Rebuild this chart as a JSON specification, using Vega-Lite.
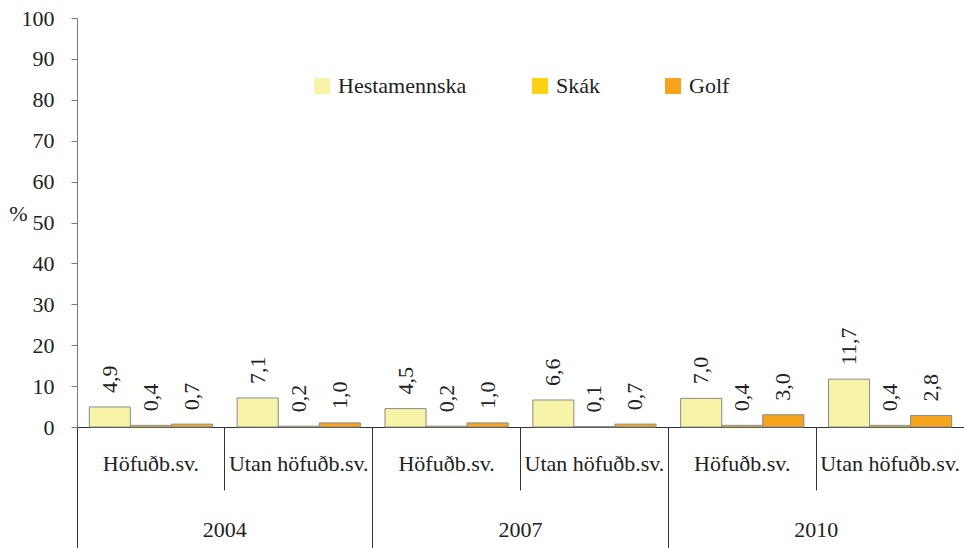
{
  "$schema": "https://vega.github.io/schema/vega-lite/v6.json",
  "autosize": {"type": "none"},
  "padding": {"left": 77, "top": 18, "right": 0, "bottom": 121},
  "width": 887,
  "height": 409,
  "background": "white",
  "config": {
    "view": {"stroke": null},
    "locale": {"number": {"decimal": ",", "thousands": ".", "grouping": [3], "currency": ["", " kr."]}},
    "font": "'Liberation Serif', 'Times New Roman', 'DejaVu Serif', serif"
  },
  "datasets": {
    "main": [
      {"year": "2004", "region": "Höfuðb.sv.", "series": "Hestamennska", "value": 4.9},
      {"year": "2004", "region": "Höfuðb.sv.", "series": "Skák", "value": 0.4},
      {"year": "2004", "region": "Höfuðb.sv.", "series": "Golf", "value": 0.7},
      {"year": "2004", "region": "Utan höfuðb.sv.", "series": "Hestamennska", "value": 7.1},
      {"year": "2004", "region": "Utan höfuðb.sv.", "series": "Skák", "value": 0.2},
      {"year": "2004", "region": "Utan höfuðb.sv.", "series": "Golf", "value": 1.0},
      {"year": "2007", "region": "Höfuðb.sv.", "series": "Hestamennska", "value": 4.5},
      {"year": "2007", "region": "Höfuðb.sv.", "series": "Skák", "value": 0.2},
      {"year": "2007", "region": "Höfuðb.sv.", "series": "Golf", "value": 1.0},
      {"year": "2007", "region": "Utan höfuðb.sv.", "series": "Hestamennska", "value": 6.6},
      {"year": "2007", "region": "Utan höfuðb.sv.", "series": "Skák", "value": 0.1},
      {"year": "2007", "region": "Utan höfuðb.sv.", "series": "Golf", "value": 0.7},
      {"year": "2010", "region": "Höfuðb.sv.", "series": "Hestamennska", "value": 7.0},
      {"year": "2010", "region": "Höfuðb.sv.", "series": "Skák", "value": 0.4},
      {"year": "2010", "region": "Höfuðb.sv.", "series": "Golf", "value": 3.0},
      {"year": "2010", "region": "Utan höfuðb.sv.", "series": "Hestamennska", "value": 11.7},
      {"year": "2010", "region": "Utan höfuðb.sv.", "series": "Skák", "value": 0.4},
      {"year": "2010", "region": "Utan höfuðb.sv.", "series": "Golf", "value": 2.8}
    ]
  },
  "layer": [
    {
      "data": {"name": "main"},
      "transform": [{"calculate": "datum.year + '|' + datum.region", "as": "cat"}],
      "encoding": {
        "x": {
          "field": "cat", "type": "nominal",
          "scale": {"paddingInner": 0, "paddingOuter": 0},
          "axis": {
            "orient": "bottom", "title": null,
            "labelExpr": "split(datum.label, '|')[1]",
            "labelAngle": 0, "bandPosition": 0,
            "tickSize": 63, "tickColor": "#333", "tickWidth": 1,
            "domainColor": "#333", "domainWidth": 1,
            "labelPadding": -37, "labelFontSize": 22,
            "labelColor": "#222", "labelBaseline": "top"
          }
        },
        "xOffset": {
          "field": "series", "type": "nominal",
          "sort": ["Hestamennska", "Skák", "Golf"],
          "scale": {"paddingInner": 0, "paddingOuter": 0.3}
        },
        "y": {
          "field": "value", "type": "quantitative",
          "scale": {"domain": [0, 100], "nice": false},
          "axis": {
            "values": [0, 10, 20, 30, 40, 50, 60, 70, 80, 90, 100],
            "grid": false, "tickSize": 6, "tickColor": "#777", "domainColor": "#777",
            "labelPadding": 17, "labelFontSize": 22, "labelColor": "#222",
            "title": "%", "titleAngle": 0, "titleX": -59, "titleY": 195,
            "titleAlign": "center", "titleBaseline": "middle",
            "titleFontSize": 22, "titleFontWeight": "normal", "titleColor": "#222"
          }
        }
      },
      "layer": [
        {
          "mark": {"type": "bar", "stroke": "#8a8a8a", "strokeWidth": 1},
          "encoding": {
            "color": {
              "field": "series", "type": "nominal",
              "scale": {"domain": ["Hestamennska", "Skák", "Golf"], "range": ["#F7F4A8", "#FDD116", "#F6A41E"]},
              "legend": {
                "title": null, "orient": "none", "direction": "horizontal",
                "legendX": 234, "legendY": 57,
                "symbolType": "square", "symbolSize": 256, "symbolStrokeWidth": 0,
                "labelFontSize": 22, "labelColor": "#222",
                "labelOffset": 5, "columnPadding": 62
              }
            }
          }
        },
        {
          "mark": {"type": "text", "angle": 270, "align": "left", "baseline": "middle", "dx": 14,
                   "fontSize": 22, "color": "#222"},
          "encoding": {
            "text": {"field": "value", "type": "quantitative", "format": ".1f"}
          }
        }
      ]
    },
    {
      "data": {"name": "main"},
      "mark": {"type": "bar", "opacity": 0},
      "encoding": {
        "x": {
          "field": "year", "type": "nominal",
          "scale": {"paddingInner": 0, "paddingOuter": 0},
          "axis": {
            "orient": "bottom", "title": null, "labelAngle": 0, "bandPosition": 0,
            "domain": false, "tickSize": 121, "tickColor": "#333", "tickWidth": 1,
            "labelPadding": -29, "labelFontSize": 22,
            "labelColor": "#222", "labelBaseline": "top"
          }
        }
      }
    }
  ],
  "resolve": {"scale": {"x": "independent"}, "axis": {"x": "independent"}}
}
